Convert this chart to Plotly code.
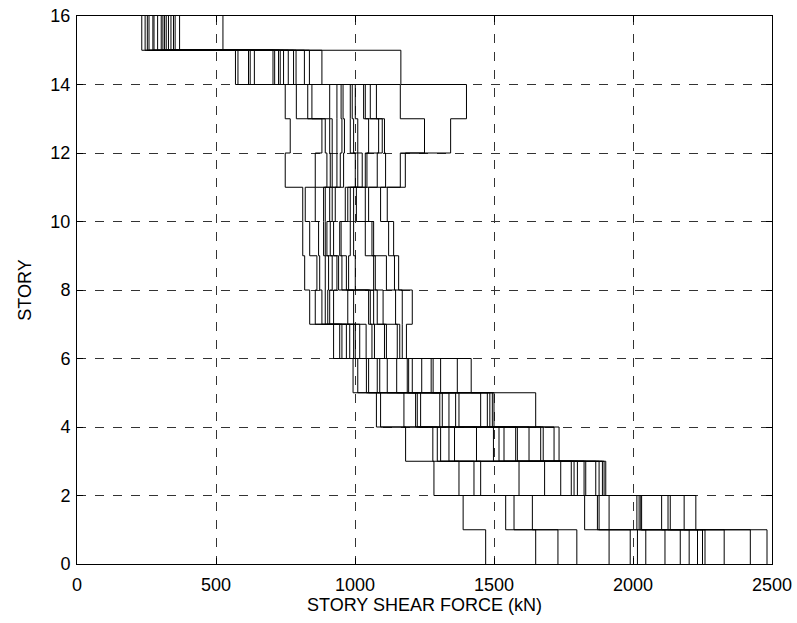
import plotly.graph_objects as go

# Story shear (kN) of each record, listed story by story (story 1 = ground).
# Each list holds one value per record, in ascending order.
story_01 = [1470, 1650, 1730, 1798, 1914, 1990, 2016, 2046, 2115, 2170, 2202, 2232, 2250, 2259, 2328, 2422, 2482]
story_02 = [1389, 1542, 1572, 1638, 1826, 1872, 1878, 1914, 2014, 2022, 2028, 2031, 2103, 2126, 2134, 2184, 2226]
story_03 = [1284, 1374, 1428, 1452, 1590, 1682, 1740, 1778, 1788, 1800, 1824, 1830, 1866, 1878, 1890, 1896, 1902]
story_04 = [1182, 1280, 1296, 1308, 1338, 1358, 1437, 1498, 1518, 1536, 1578, 1584, 1626, 1668, 1677, 1716, 1734]
story_05 = [1077, 1092, 1176, 1218, 1224, 1236, 1305, 1314, 1338, 1362, 1374, 1452, 1476, 1485, 1494, 1500, 1650]
story_06 = [993, 1010, 1041, 1049, 1080, 1089, 1116, 1150, 1188, 1193, 1206, 1240, 1274, 1281, 1308, 1368, 1418]
story_07 = [923, 945, 953, 969, 981, 995, 1001, 1017, 1040, 1061, 1070, 1106, 1113, 1152, 1161, 1170, 1185]
story_08 = [837, 857, 881, 893, 902, 909, 923, 974, 995, 1049, 1055, 1067, 1080, 1101, 1146, 1170, 1206]
story_09 = [819, 863, 873, 893, 905, 918, 935, 941, 953, 969, 977, 1001, 1067, 1073, 1113, 1142, 1157]
story_10 = [812, 837, 869, 887, 893, 899, 911, 923, 945, 950, 983, 995, 1037, 1061, 1067, 1121, 1139]
story_11 = [812, 821, 857, 887, 893, 909, 918, 929, 965, 974, 983, 995, 1005, 1037, 1049, 1092, 1116]
story_12 = [749, 857, 899, 911, 918, 935, 947, 959, 1001, 1010, 1026, 1037, 1043, 1080, 1110, 1163, 1181]
story_13 = [767, 881, 893, 909, 918, 935, 953, 962, 983, 995, 1010, 1049, 1085, 1098, 1106, 1250, 1344]
story_14 = [749, 789, 830, 845, 909, 935, 950, 957, 983, 990, 1001, 1031, 1037, 1055, 1077, 1163, 1401]
story_15 = [570, 579, 617, 623, 638, 705, 711, 725, 731, 743, 760, 779, 788, 818, 836, 881, 1165]
story_16 = [233, 245, 253, 259, 273, 277, 290, 303, 309, 315, 321, 329, 338, 347, 353, 369, 525]

stories = [story_01, story_02, story_03, story_04, story_05, story_06, story_07, story_08,
           story_09, story_10, story_11, story_12, story_13, story_14, story_15, story_16]

x_ticks = [0, 500, 1000, 1500, 2000, 2500]
y_ticks = [0, 2, 4, 6, 8, 10, 12, 14, 16]

n_records = len(story_01)
n_stories = len(stories)

fig = go.Figure()
for r in range(n_records):
    shears = [s[r] for s in stories]
    # Step profile: constant shear over each story height.
    xs = shears + [shears[-1]]
    ys = list(range(n_stories)) + [n_stories]
    fig.add_trace(go.Scatter(
        x=xs, y=ys, mode="lines", line_shape="vh",
        line=dict(color="black", width=1), showlegend=False, hoverinfo="skip",
    ))

axis_font = dict(family="Liberation Sans, Arial, sans-serif", size=18, color="black")

common = dict(
    showline=True, linecolor="black", linewidth=1, mirror="ticks",
    ticks="inside", ticklen=6, tickcolor="black",
    showgrid=True, gridcolor="#333333", gridwidth=1, griddash="dash",
    zeroline=False, tickfont=axis_font, automargin=False,
)

fig.update_xaxes(range=[0, 2500], tickvals=x_ticks, ticklabelstandoff=4,
                 title=dict(text="STORY SHEAR FORCE (kN)", font=axis_font, standoff=4),
                 **common)
fig.update_yaxes(range=[0, 16], tickvals=y_ticks, ticklabelstandoff=2,
                 title=dict(text="STORY", font=axis_font, standoff=14),
                 **common)

fig.update_layout(
    width=797, height=623,
    margin=dict(l=77, r=25, t=16, b=59),
    plot_bgcolor="white", paper_bgcolor="white",
    font=axis_font,
)

fig.write_html("out.html")
